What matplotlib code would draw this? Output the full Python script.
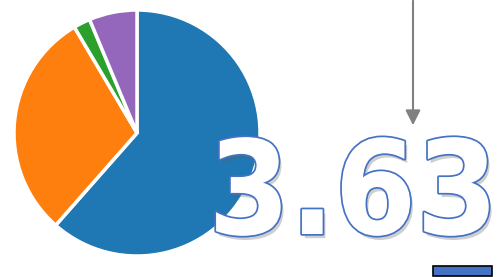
import matplotlib.pyplot as plt
import matplotlib.patheffects as pe

# pie shares (clockwise from 12 o'clock)
labels = ['A', 'B', 'C', 'D']
shares = [61.5, 30.0, 2.2, 6.3]
colors = ['#1f77b4', '#ff7f0e', '#2ca02c', '#9467bd']
value_text = '3.63'

W, H = 504, 277
fig = plt.figure(figsize=(W / 100, H / 100), dpi=100)
ax = fig.add_axes([0, 0, 1, 1])

ax.pie(shares, colors=colors, startangle=90, counterclock=False,
       center=(137, H - 133), radius=123,
       wedgeprops={'edgecolor': 'white', 'linewidth': 2.5})
ax.set_xlim(0, W)
ax.set_ylim(0, H)
ax.set_aspect('equal')
ax.axis('off')

# arrow pointing down at the number
ax.annotate('', xy=(413, H - 128), xytext=(413, H + 2),
            arrowprops=dict(arrowstyle='-|>,head_length=0.9,head_width=0.45',
                            color='#808080', lw=1.5))

# big outlined value
ax.text(353, H - 234, value_text, ha='center', va='baseline',
        fontsize=94, fontweight='bold', fontstretch='condensed',
        family='DejaVu Sans', color='white',
        path_effects=[pe.SimplePatchShadow(offset=(2, -3), shadow_rgbFace='#606060', alpha=0.3),
                      pe.Stroke(linewidth=2.5, foreground='#4472c4'),
                      pe.Normal()])

# small bar at the bottom edge
ax.add_patch(plt.Rectangle((433, H - 276), 59, 10, facecolor='#4472c4',
                           edgecolor='black', lw=1.2, clip_on=False))

fig.savefig('out.png', dpi=100)
